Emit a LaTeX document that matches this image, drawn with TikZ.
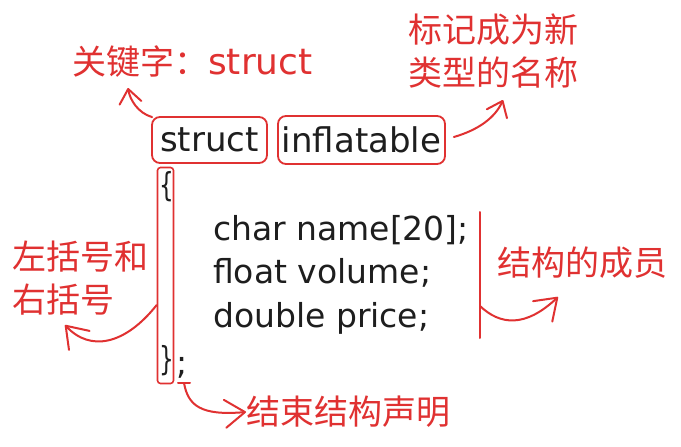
\documentclass[tikz,border=0pt]{standalone}
\usepackage{fontspec}
\setmainfont{DejaVu Sans}
\newfontfamily\cjk{Noto Sans CJK SC}
\usetikzlibrary{arrows.meta}
\definecolor{exred}{HTML}{E03131}
\definecolor{exink}{HTML}{1E1E1E}
\tikzset{
  redlabel/.style={text=exred, inner sep=0pt, font=\cjk\fontsize{34}{43}\selectfont, align=left},
  codetext/.style={text=exink, inner sep=0pt, font=\fontsize{33}{43}\selectfont},
  kwbox/.style={draw=exred, line width=1.8pt, rounded corners=8pt, inner sep=0pt, text=exink, font=\fontsize{34}{40}\selectfont},
  bracebox/.style={draw=exred, line width=1.6pt, rounded corners=3pt, inner sep=0pt, minimum width=16pt, minimum height=216pt},
  redarrow/.style={draw=exred, line width=2pt, line cap=round, line join=round, -{Straight Barb[length=14pt,width=22pt,line width=2pt,line cap=round,line join=round]}},
  bigarrow/.style={redarrow, -{Straight Barb[length=20pt,width=28pt,line width=2pt,line cap=round,line join=round]}},
}
\begin{document}
\begin{tikzpicture}[x=1pt,y=-1pt]
\useasboundingbox[fill=white] (0,0) rectangle (681,447);

% boxes
\node[kwbox, minimum width=115pt, minimum height=46pt] (kbox) at (209.5,140) {struct};
\node[kwbox, minimum width=167pt, minimum height=48pt] (ibox) at (361.5,140) {inflatable};
\node[bracebox] (bbox) at (165.5,275.5) {};

% braces
\node[codetext, xscale=0.7] (lbrace) at (167,187) {\{};
\node[codetext, xscale=0.7] (rbrace) at (167,361) {\}};
\node[codetext, anchor=base west] (semi) at (176,374) {;};

% code lines
\node[codetext, anchor=base west] (l1) at (213,240) {char name[20];};
\node[codetext, anchor=base west] (l2) at (213,283) {float volume;};
\node[codetext, anchor=base west] (l3) at (213,327) {double price;};

% labels
\node[redlabel, anchor=west] (kwlabel) at (72,62) {关键字：{\fontspec{DejaVu Sans}\fontsize{36}{40}\selectfont struct}};
\node[redlabel, anchor=west] (namelabel) at (408,51) {标记成为新\\类型的名称};
\node[redlabel, anchor=west] (bracelabel) at (12,278) {左括号和\\右括号};
\node[redlabel, anchor=west] (memlabel) at (497,263) {结构的成员};
\node[redlabel, anchor=west] (endlabel) at (246,412) {结束结构声明};

% member bracket line
\coordinate (mtop) at (480,212);
\coordinate (mbot) at (480,338);
\coordinate (mstart) at (480,306);
\coordinate (mtip) at (558,297);
\draw[draw=exred, line width=2pt, line cap=round] (mtop) -- (mbot);

% connectors
\coordinate (ktip) at (128,88);
\draw[redarrow] (kbox.north west) ++(1,1) .. controls (138,113) and (130,100) .. (ktip);

\coordinate (ntip) at (503,100);
\draw[redarrow] (ibox.east) ++(8,-3) .. controls (478,130) and (495,118) .. (ntip);

\coordinate (btip) at (65,325);
\draw[bigarrow] (bbox.west |- 0,305) .. controls (125,345) and (90,352) .. (btip);

\draw[bigarrow] (mstart) .. controls (500,325) and (525,328) .. (mtip);

\coordinate (estart) at (184,383);
\draw[draw=exred, line width=2pt, line cap=round] (178,383) -- (190,383);
\draw[bigarrow] (estart) .. controls (188,405) and (200,416) .. (endlabel.west);
\end{tikzpicture}
\end{document}
